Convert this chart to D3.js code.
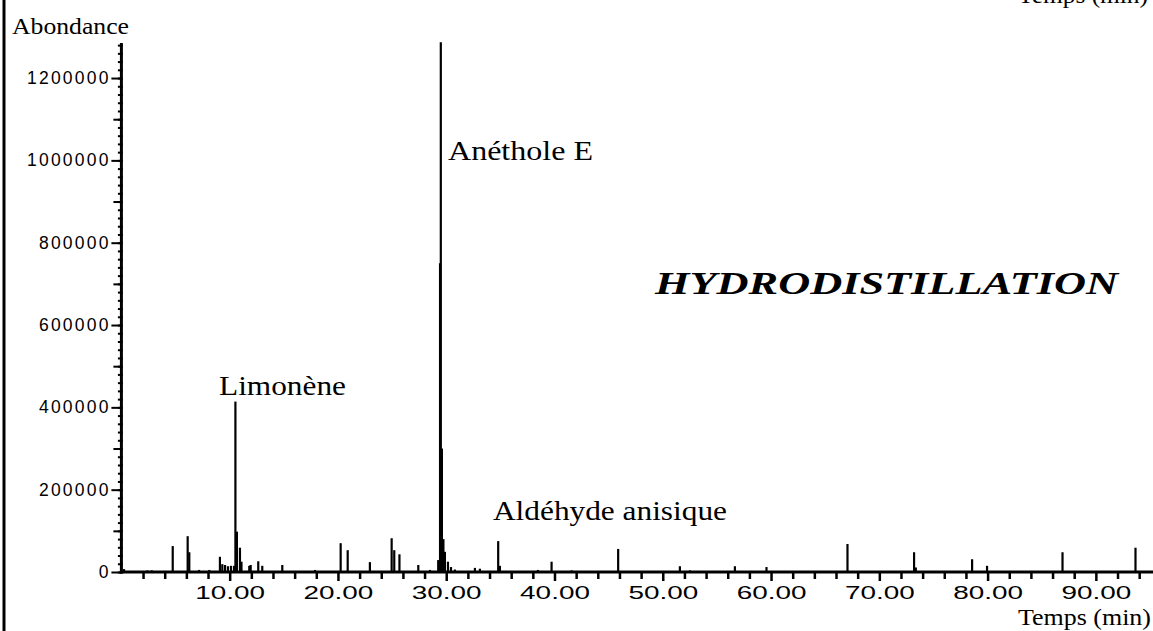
<!DOCTYPE html>
<html>
<head>
<meta charset="utf-8">
<script src="https://cdn.jsdelivr.net/npm/d3@7"></script>
<style>
  html, body { margin: 0; padding: 0; background: #fff; }
  svg { display: block; }
</style>
</head>
<body>
<div id="chart"></div>
<script>
// retention times (min) and abundances
const times = [
  0.24, 2.4, 2.8, 4.74, 6.12, 6.27, 7.17, 8.12, 9.10, 9.32, 9.57, 9.84, 10.12, 10.40,
  10.53, 10.67, 10.95, 11.09, 11.81, 11.94, 12.64, 13.01, 14.86, 17.88, 20.25, 20.90,
  22.95, 24.96, 25.20, 25.68, 27.42, 28.5, 29.26, 29.43, 29.50, 29.60, 29.74, 29.88,
  30.16, 30.44, 30.80, 32.65, 33.11, 34.80, 34.96, 38.47, 39.73, 41.58, 45.88, 51.58,
  52.50, 56.66, 59.58, 67.06, 73.21, 73.37, 78.57, 79.95, 86.92, 93.66
];
const abundances = [
  7000, 4000, 4000, 63000, 87000, 48000, 5000, 5000, 37000, 19000, 17000, 14000, 15000, 15000,
  414000, 98000, 59000, 25000, 15000, 17000, 26000, 15000, 17000, 5000, 70000, 53000,
  24000, 82000, 53000, 43000, 17000, 5000, 29000, 750000, 1287000, 300000, 80000, 49000,
  25000, 12000, 6000, 10000, 8000, 75000, 15000, 5000, 25000, 4000, 56000, 14000,
  4000, 14000, 12000, 68000, 48000, 11000, 31000, 15000, 48000, 59000
];
const yMajorTicks = [0, 200000, 400000, 600000, 800000, 1000000, 1200000];
const xMajorTicks = [10, 20, 30, 40, 50, 60, 70, 80, 90];
const xTickLabels = ["10.00", "20.00", "30.00", "40.00", "50.00", "60.00", "70.00", "80.00", "90.00"];

const peaks = times.map((t, i) => ({ t, v: abundances[i] }));

const W = 1153, H = 631;
const svg = d3.select("#chart").append("svg")
  .attr("width", W)
  .attr("height", H);

const x = d3.scaleLinear().domain([0, 95]).range([121.4, 1150]);
const y = d3.scaleLinear().domain([0, 1290000]).range([572, 41]);

// left frame line
svg.append("line")
  .attr("x1", 4).attr("x2", 4).attr("y1", 0).attr("y2", H)
  .attr("stroke", "#000").attr("stroke-width", 3);

// peaks (sticks)
svg.append("g")
  .selectAll("line")
  .data(peaks)
  .join("line")
  .attr("x1", d => x(d.t)).attr("x2", d => x(d.t))
  .attr("y1", y(0)).attr("y2", d => y(d.v))
  .attr("stroke", "#000")
  .attr("stroke-width", 2.2);

// y axis: minor, medium, major ticks
const yMinor = d3.range(0, 1280001, 20000);
const yMid = d3.range(100000, 1280001, 200000);

svg.append("g")
  .attr("transform", `translate(${x(0) + 1.5},0)`)
  .call(d3.axisLeft(y).tickValues(yMinor).tickSize(5).tickSizeOuter(0).tickFormat(""))
  .call(g => g.select(".domain").remove())
  .call(g => g.selectAll(".tick line").attr("stroke-width", 2));

svg.append("g")
  .attr("transform", `translate(${x(0)},0)`)
  .call(d3.axisLeft(y).tickValues(yMid).tickSize(8).tickFormat(""))
  .call(g => g.select(".domain").remove())
  .call(g => g.selectAll(".tick line").attr("stroke-width", 2));

svg.append("g")
  .attr("transform", `translate(${x(0)},0)`)
  .call(d3.axisLeft(y).tickValues(yMajorTicks).tickSize(10).tickPadding(3).tickFormat(d3.format("d")))
  .call(g => g.select(".domain").remove())
  .call(g => g.selectAll(".tick line").attr("stroke-width", 2))
  .call(g => g.selectAll(".tick text")
    .attr("font-family", "Liberation Sans, Arial, sans-serif")
    .attr("font-size", 17.5)
    .attr("letter-spacing", "2.2px")
    .attr("dx", "2.2px")
    .attr("fill", "#000"));

svg.append("line")
  .attr("x1", x(0)).attr("x2", x(0))
  .attr("y1", y(0) + 1.5).attr("y2", 43)
  .attr("stroke", "#000").attr("stroke-width", 3);

// x axis: minor and major ticks
const xMinor = d3.range(2, 95, 2).filter(v => v % 10 !== 0);

svg.append("g")
  .attr("transform", `translate(0,${y(0)})`)
  .call(d3.axisBottom(x).tickValues(xMinor).tickSize(7).tickFormat(""))
  .call(g => g.select(".domain").remove())
  .call(g => g.selectAll(".tick line").attr("stroke-width", 2.5));

svg.append("g")
  .attr("transform", `translate(0,${y(0)})`)
  .call(d3.axisBottom(x).tickValues(xMajorTicks).tickSize(9).tickPadding(5)
    .tickFormat((d, i) => xTickLabels[i]))
  .call(g => g.select(".domain").remove())
  .call(g => g.selectAll(".tick line").attr("stroke-width", 2.5))
  .call(g => g.selectAll(".tick text")
    .attr("font-family", "Liberation Sans, Arial, sans-serif")
    .attr("font-size", 18)
    .attr("fill", "#000")
    .attr("transform", "scale(1.55,1)"));

svg.append("line")
  .attr("x1", x(0) - 1.5).attr("x2", W)
  .attr("y1", y(0)).attr("y2", y(0))
  .attr("stroke", "#000").attr("stroke-width", 3);

// texts
const serif = "Liberation Serif, Times New Roman, serif";

function label(txt, x0, yb, size, len, opts = {}) {
  const t = svg.append("text")
    .attr("x", x0).attr("y", yb)
    .attr("font-family", serif)
    .attr("font-size", size)
    .attr("fill", "#000")
    .text(txt);
  if (len) t.attr("textLength", len).attr("lengthAdjust", "spacingAndGlyphs");
  if (opts.weight) t.attr("font-weight", opts.weight);
  if (opts.style) t.attr("font-style", opts.style);
  return t;
}

label("Abondance", 12, 34, 24, 117);
label("Temps (min)", 1018, 625, 24, 133);
label("Temps (min)", 1018, 3, 24, 130);
label("Limonène", 219, 395, 28, 127);
label("Anéthole E", 448, 160, 28, 145);
label("Aldéhyde anisique", 493, 520, 28, 234);
label("HYDRODISTILLATION", 655, 294, 31, 463, { weight: "bold", style: "italic" });
</script>
</body>
</html>
